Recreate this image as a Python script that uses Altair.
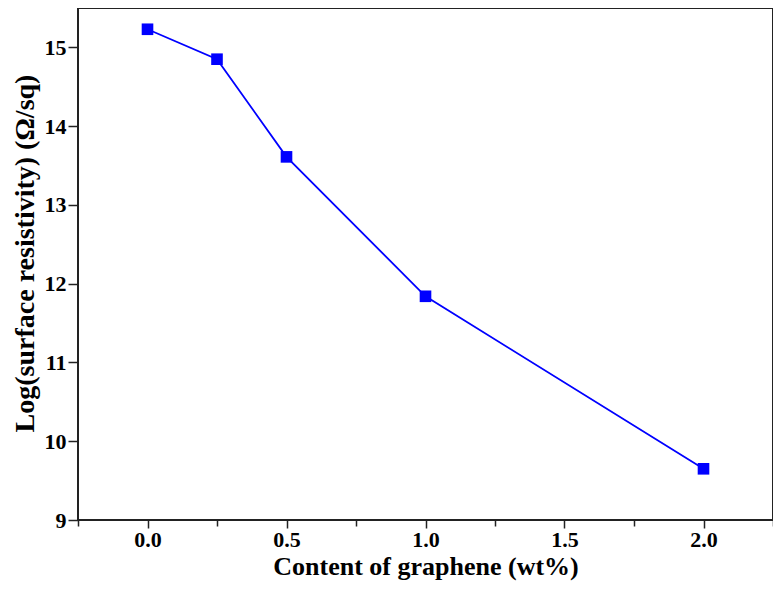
import altair as alt
import pandas as pd

content = [0.0, 0.25, 0.5, 1.0, 2.0]
log_res = [15.23, 14.85, 13.61, 11.84, 9.65]

x_ticks = [-0.25, 0.0, 0.25, 0.5, 0.75, 1.0, 1.25, 1.5, 1.75, 2.0, 2.25]
y_ticks = [9.0, 9.5, 10.0, 10.5, 11.0, 11.5, 12.0, 12.5, 13.0, 13.5, 14.0, 14.5, 15.0, 15.5]

df = pd.DataFrame({"x": content, "y": log_res})

FONT = "Liberation Serif"
AX = "#222222"

x_enc = alt.X(
    "x:Q",
    scale=alt.Scale(domain=[-0.25, 2.25], nice=False, zero=False),
    axis=alt.Axis(
        title="Content of graphene (wt%)",
        values=x_ticks,
        labelExpr="(abs(datum.value*2 - round(datum.value*2)) < 0.001 && datum.value >= 0 && datum.value <= 2) ? format(datum.value, '.1f') : ''",
        tickSize={"condition": {"test": "abs(datum.value*2 - round(datum.value*2)) < 0.001", "value": 8}, "value": 6},
        grid=False,
        domain=False,
        labelFont=FONT, labelFontSize=22, labelFontWeight="bold", labelColor="#000000",
        labelPadding=1,
        titleFont=FONT, titleFontSize=26, titleFontWeight="bold", titleColor="#000000",
        titlePadding=3,
        tickColor=AX, tickWidth=1.5,
        labelFlush=False,
    ),
)
y_enc = alt.Y(
    "y:Q",
    scale=alt.Scale(domain=[9, 15.5], nice=False, zero=False),
    axis=alt.Axis(
        title="Log(surface  resistivity) (Ω/sq)",
        values=y_ticks,
        labelExpr="(abs(datum.value - round(datum.value)) < 0.001 && datum.value <= 15) ? format(datum.value, 'd') : ''",
        tickSize={"condition": {"test": "abs(datum.value - round(datum.value)) < 0.001", "value": 10}, "value": 6},
        grid=False,
        domain=False,
        labelFont=FONT, labelFontSize=22, labelFontWeight="bold", labelColor="#000000",
        labelPadding=2,
        titleFont=FONT, titleFontSize=28, titleFontWeight="bold", titleColor="#000000",
        titlePadding=5,
        titleY=245,
        tickColor=AX, tickWidth=1.5,
        labelFlush=False,
    ),
)

line = alt.Chart(df).mark_line(color="#0000FF", strokeWidth=1.8).encode(x=x_enc, y=y_enc)
pts = alt.Chart(df).mark_square(color="#0000FF", opacity=1, size=135).encode(x="x:Q", y="y:Q")

chart = (
    alt.layer(line, pts)
    .properties(
        width=695,
        height=512,
        autosize=alt.AutoSizeParams(type="none"),
        padding={"left": 70, "top": 0, "right": 0, "bottom": 70},
        background="#ffffff",
    )
    .configure_view(stroke=AX, strokeWidth=2)
)

chart.save("out.html", embed_options={"renderer": "svg", "actions": False})
